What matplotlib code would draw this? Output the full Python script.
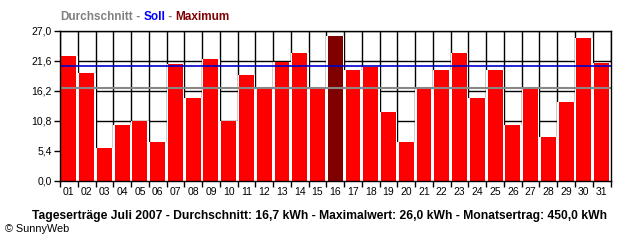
import matplotlib.pyplot as plt
import numpy as np

# daily yields July 2007 (kWh)
days = ['%02d' % d for d in range(1, 32)]
ertrag = [22.5, 19.3, 5.8, 10.0, 10.8, 6.9, 20.9, 14.8, 21.8, 10.8,
          19.0, 16.6, 21.3, 22.9, 16.8, 26.0, 19.9, 20.4, 12.3, 6.9,
          16.8, 19.9, 22.9, 14.8, 19.9, 10.0, 16.8, 7.8, 14.1, 25.6, 21.1]
durchschnitt = 16.6
soll = 20.7
yticks = [0.0, 5.4, 10.8, 16.2, 21.6, 27.0]

plt.rcParams['font.family'] = ['Liberation Sans', 'DejaVu Sans']

fig = plt.figure(figsize=(6.4, 2.4), dpi=100)
ax = fig.add_axes([60 / 640, 1 - 180.5 / 240, 550.5 / 640, 150 / 240])

x = np.arange(len(days))
imax = int(np.argmax(ertrag))
colors = ['#800000' if i == imax else '#ff0000' for i in range(len(days))]
# white backing hides the grid in the gaps beside each bar
ax.bar(x, ertrag, width=1.0, color='white', zorder=2)
ax.bar(x, ertrag, width=0.84, color=colors, zorder=3)

# grid: vertical at day borders, horizontal at y ticks
for b in np.arange(-0.5, len(days), 1.0):
    ax.axvline(b, color='black', lw=1, zorder=1)
for t in yticks:
    ax.axhline(t, color='black', lw=1, zorder=1)

ax.axhline(soll, color='#0000cc', lw=1.2, zorder=4)
ax.axhline(durchschnitt, color='#888888', lw=1.5, zorder=4)

ax.set_xlim(-0.5, len(days) - 0.5)
ax.set_ylim(0, 27)
ax.set_yticks(yticks)
ax.set_yticklabels([('%.1f' % t).replace('.', ',') for t in yticks])
ax.set_xticks(np.arange(-0.5, len(days), 1.0))
ax.set_xticklabels([])
ax.set_xticks(x, minor=True)
ax.set_xticklabels(days, minor=True)
ax.tick_params(axis='x', which='major', length=4, width=1, direction='out')
ax.tick_params(axis='x', which='minor', length=0, pad=5, labelsize=7.5)
ax.tick_params(axis='y', length=4, width=1, direction='out', labelsize=7.5, pad=2)
for s in ax.spines.values():
    s.set_linewidth(1)
    s.set_zorder(5)

# legend-like title in three colours
renderer = fig.canvas.get_renderer()
xpos = 60 / 640
for txt, c in [('Durchschnitt', '#808080'), (' - ', '#808080'), ('Soll', '#0000ff'),
               (' - ', '#808080'), ('Maximum', '#800000')]:
    t = fig.text(xpos, 1 - 17 / 240, txt, color=c, fontsize=8.5, fontweight='bold', va='center')
    xpos += t.get_window_extent(renderer).width / 640

fig.text(320 / 640, 1 - 216 / 240,
         'Tageserträge Juli 2007 - Durchschnitt: 16,7 kWh - Maximalwert: 26,0 kWh - Monatsertrag: 450,0 kWh',
         ha='center', va='center', fontsize=8.7, fontweight='bold')
fig.text(5 / 640, 1 - 229 / 240, '© SunnyWeb', ha='left', va='center', fontsize=7.8)

fig.savefig('out.png', dpi=100)
